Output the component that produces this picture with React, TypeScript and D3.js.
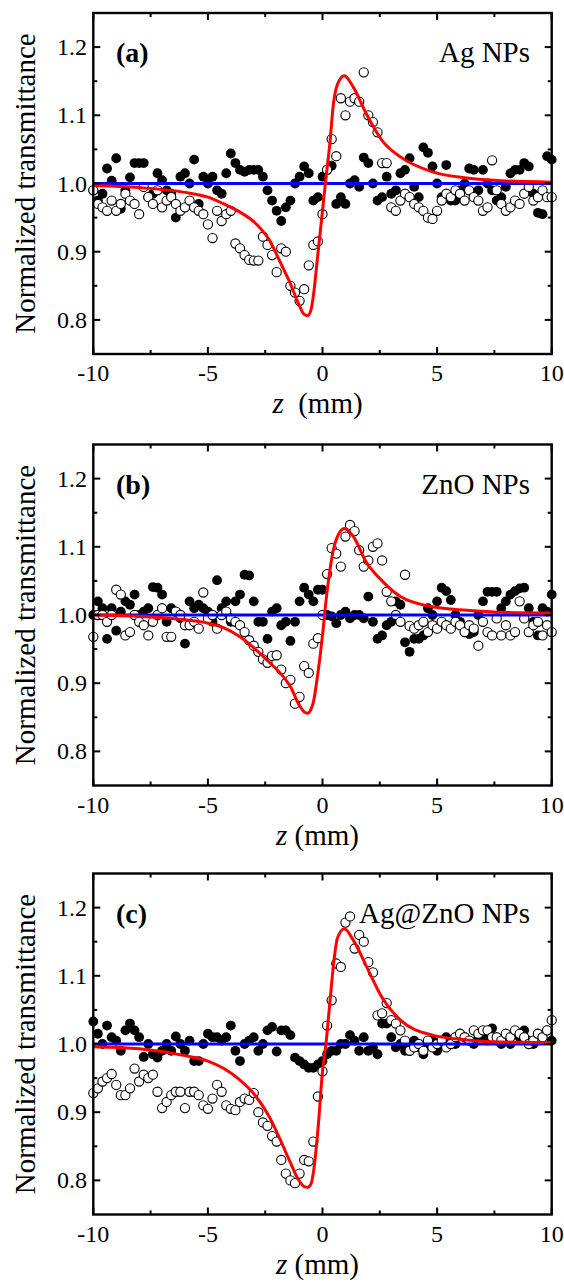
import React from 'react';
import * as d3 from 'd3';

// z positions of the scan (mm)
const zScan = [
	-10, -9.8, -9.6, -9.4, -9.2, -9, -8.8, -8.6, -8.4, -8.2,
	-8, -7.8, -7.6, -7.4, -7.2, -7, -6.8, -6.6, -6.4, -6.2,
	-6, -5.8, -5.6, -5.4, -5.2, -5, -4.8, -4.6, -4.4, -4.2,
	-4, -3.8, -3.6, -3.4, -3.2, -3, -2.8, -2.6, -2.4, -2.2,
	-2, -1.8, -1.6, -1.4, -1.2, -1, -0.8, -0.6, -0.4, -0.2,
	0, 0.2, 0.4, 0.6, 0.8, 1, 1.2, 1.4, 1.6, 1.8,
	2, 2.2, 2.4, 2.6, 2.8, 3, 3.2, 3.4, 3.6, 3.8,
	4, 4.2, 4.4, 4.6, 4.8, 5, 5.2, 5.4, 5.6, 5.8,
	6, 6.2, 6.4, 6.6, 6.8, 7, 7.2, 7.4, 7.6, 7.8,
	8, 8.2, 8.4, 8.6, 8.8, 9, 9.2, 9.4, 9.6, 9.8,
	10
];

// (a) Ag NPs
const agOpen = [
	0.99, 0.97, 0.965, 0.96, 0.975, 0.96, 0.97, 0.985, 0.975, 0.97,
	0.955, 0.995, 0.98, 0.97, 0.99, 0.965, 0.975, 0.98, 0.97, 0.96,
	0.965, 0.975, 0.965, 0.96, 0.955, 0.94, 0.92, 0.96, 0.945, 0.955,
	0.96, 0.912, 0.905, 0.895, 0.888, 0.887, 0.887, 0.922, 0.91, 0.895,
	0.87, 0.905, 0.9, 0.85, 0.84, 0.828, 0.845, 0.88, 0.91, 0.915,
	0.955, 1.02, 1.065, 1.04, 1.125, 1.1, 1.12, 1.125, 1.12, 1.163,
	1.1, 1.09, 1.075, 1.03, 1.03, 0.965, 0.96, 0.975, 0.985, 0.98,
	0.97, 0.965, 0.96, 0.95, 0.948, 0.96, 0.975, 0.985, 0.98, 0.99,
	0.985, 0.975, 0.99, 0.98, 0.975, 0.96, 0.965, 1.034, 0.99, 0.97,
	0.96, 0.965, 0.975, 0.97, 0.985, 0.995, 0.975, 0.98, 0.99, 0.98,
	0.98
];
const agFilled = [
	0.99, 0.975, 0.985, 1.022, 1.004, 1.037, 0.963, 0.99, 1.009, 1.03,
	1.03, 1.03, 0.98, 0.985, 1.015, 1.005, 0.99, 0.985, 0.95, 1.01,
	1.015, 1.0, 1.035, 0.97, 1.01, 1.0, 1.01, 0.99, 0.985, 1.015,
	1.044, 1.03, 1.02, 1.017, 1.02, 1.02, 1.02, 1.01, 0.99, 0.975,
	0.96, 0.945, 0.965, 0.975, 1.0, 1.01, 1.025, 1.015, 0.975, 0.98,
	1.01, 1.02, 1.026, 0.97, 0.98, 0.97, 1.0, 1.005, 0.995, 1.038,
	1.03, 1.0, 0.975, 0.98, 1.01, 0.985, 0.99, 1.015, 1.02, 1.037,
	0.995, 0.98, 1.053, 1.045, 1.025, 1.0, 0.98, 1.027, 0.975, 0.975,
	0.99, 1.0, 1.022, 1.02, 0.99, 1.02, 1.0, 0.99, 0.975, 0.98,
	0.995, 1.015, 1.02, 1.02, 1.03, 1.025, 0.985, 0.957, 0.955, 1.04,
	1.035
];

// (b) ZnO NPs
const znoOpen = [
	0.968, 1.0, 1.0, 0.99, 1.0, 1.037, 1.03, 0.97, 0.975, 1.0,
	0.99, 0.985, 0.97, 0.99, 1.0, 1.01, 0.968, 0.968, 1.005, 1.0,
	0.985, 0.985, 0.99, 0.98, 1.033, 0.995, 1.0, 0.98, 1.0, 1.005,
	0.995, 0.99, 0.985, 0.975, 0.963, 0.955, 0.946, 0.935, 0.93, 0.94,
	0.941, 0.92, 0.9, 0.905, 0.87, 0.88, 0.925, 0.915, 0.958, 0.966,
	1.0, 1.06, 1.098, 1.09, 1.071, 1.115, 1.132, 1.123, 1.095, 1.071,
	1.08, 1.1, 1.105, 1.08, 1.034, 1.02, 1.0, 0.99, 1.059, 0.984,
	0.98, 0.985, 0.99, 0.975, 0.985, 0.98, 0.99, 0.985, 0.98, 0.99,
	0.985, 0.975, 0.985, 0.98, 0.955, 0.99, 0.975, 0.97, 0.995, 0.97,
	0.985, 0.97, 0.975, 1.02, 0.995, 0.975, 0.985, 0.99, 0.97, 0.985,
	0.975
];
const znoFilled = [
	1.0, 1.02, 1.01, 0.965, 1.01, 0.977, 1.005, 1.02, 1.015, 1.03,
	1.0, 1.005, 1.01, 1.041, 1.04, 1.03, 0.99, 1.01, 1.005, 0.995,
	0.958, 1.02, 1.01, 1.015, 1.01, 1.005, 0.99, 1.051, 1.01, 1.02,
	0.99, 1.02, 1.03, 1.059, 1.058, 1.02, 0.99, 0.99, 0.965, 1.005,
	1.01, 0.985, 0.99, 0.962, 0.99, 1.02, 1.04, 1.03, 1.02, 1.037,
	1.037, 1.0, 0.998, 0.988, 1.0, 1.005, 0.995, 1.0, 1.0, 0.995,
	1.027, 0.99, 0.965, 0.97, 0.985, 0.99, 1.02, 1.015, 0.96, 0.946,
	0.965, 0.965, 0.97, 1.01, 1.0, 1.02, 1.04, 1.035, 1.022, 1.0,
	0.99, 0.975, 0.972, 0.975, 1.0, 1.02, 1.034, 1.034, 1.034, 1.01,
	1.02, 1.03, 1.035, 1.039, 1.04, 1.01, 0.99, 0.97, 1.01, 1.005,
	1.03
];

// (c) Ag@ZnO NPs
const agZnoOpen = [
	0.928, 0.935, 0.945, 0.95, 0.956, 0.94, 0.925, 0.925, 0.935, 0.964,
	0.945, 0.955, 0.95, 0.955, 0.93, 0.906, 0.915, 0.925, 0.93, 0.93,
	0.906, 0.93, 0.93, 0.925, 0.91, 0.905, 0.92, 0.94, 0.93, 0.91,
	0.905, 0.903, 0.915, 0.92, 0.918, 0.928, 0.9, 0.885, 0.88, 0.865,
	0.857, 0.83, 0.81, 0.8, 0.796, 0.81, 0.83, 0.828, 0.857, 0.923,
	0.96, 1.027, 1.064, 1.118, 1.113, 1.178, 1.187, 1.14, 1.16, 1.15,
	1.12, 1.105, 1.042, 1.045, 1.06, 1.035, 1.03, 1.02, 1.005, 0.99,
	0.995, 1.0, 0.99, 1.005, 0.995, 1.0, 1.005, 0.995, 1.0, 1.01,
	1.015, 1.01, 1.005, 1.02, 1.015, 1.02, 1.02, 1.01, 1.01, 1.005,
	1.015, 1.01, 1.02, 1.015, 1.01, 1.0, 1.005, 1.015, 1.01, 1.02,
	1.035
];
const agZnoFilled = [
	1.033, 1.015, 1.0, 1.027, 1.01, 1.005, 0.99, 1.02, 1.03, 1.02,
	1.01, 0.981, 1.0, 0.985, 0.98, 0.99, 1.0, 0.99, 1.011, 1.0,
	0.99, 1.005, 0.975, 0.975, 1.0, 1.015, 1.01, 1.01, 1.005, 1.01,
	1.027, 0.99, 0.975, 1.0, 1.005, 1.01, 0.99, 1.0, 1.02, 1.025,
	0.989, 1.02, 1.02, 1.013, 0.98, 0.975, 0.97, 0.965, 0.965, 0.97,
	0.975, 0.985, 0.99, 0.99, 1.0, 1.0, 1.013, 1.005, 0.99, 1.01,
	0.99, 0.995, 0.985, 1.03, 1.03, 1.01, 0.995, 1.0, 0.99, 1.0,
	1.005, 0.995, 0.985, 1.0, 1.005, 0.99, 1.0, 1.01, 1.005, 1.0,
	1.015, 1.01, 1.005, 1.0, 1.01, 1.013, 1.005, 1.023, 1.005, 1.0,
	1.01, 1.0, 1.015, 1.01, 1.02, 1.005, 1.0, 1.015, 1.01, 1.02,
	1.005
];

// fitted curves (red), read at these z
const fitZ = [-10, -8, -6, -5, -4.3, -3.6, -2.9, -2.3, -1.85, -1.4, -1.05, -0.8, -0.65, -0.5, -0.4,
	-0.2, 0, 0.15, 0.32, 0.47, 0.65, 0.95, 1.35, 1.9, 2.6, 3.4, 4.8, 6.3, 7.8, 10];
const agFit = [0.997, 0.994, 0.987, 0.98, 0.97, 0.958, 0.941, 0.916, 0.885, 0.853, 0.824, 0.808, 0.806, 0.815, 0.835,
	0.897, 0.96, 1.008, 1.058, 1.115, 1.145, 1.158, 1.141, 1.103, 1.063, 1.039, 1.017, 1.008, 1.004, 1.002];
const znoFit = [1.0, 0.998, 0.993, 0.988, 0.981, 0.968, 0.949, 0.93, 0.915, 0.895, 0.87, 0.858, 0.856, 0.862, 0.872,
	0.915, 0.97, 1.02, 1.065, 1.095, 1.115, 1.127, 1.115, 1.078, 1.05, 1.027, 1.012, 1.007, 1.004, 1.003];
const agZnoFit = [0.996, 0.993, 0.983, 0.975, 0.964, 0.947, 0.923, 0.892, 0.86, 0.826, 0.801, 0.791, 0.79, 0.795, 0.811,
	0.874, 0.96, 1.0, 1.06, 1.113, 1.155, 1.169, 1.152, 1.115, 1.068, 1.035, 1.013, 1.006, 1.003, 1.002];

const baseline = 1.0;

const panelTags = ['(a)', '(b)', '(c)'];
const sampleNames = ['Ag NPs', 'ZnO NPs', 'Ag@ZnO NPs'];
const xTitleGaps = ['  ', ' ', ' '];

const xMajor = [-10, -5, 0, 5, 10];
const xMinor = [-7.5, -2.5, 2.5, 7.5];
const yMajor = [0.8, 0.9, 1.0, 1.1, 1.2];
const yMinor = [0.85, 0.95, 1.05, 1.15];

const W = 564;
const H = 1282;
const SERIF = "'Liberation Serif', 'Times New Roman', serif";

const panelData = [
	{ open: agOpen, filled: agFilled, fit: agFit },
	{ open: znoOpen, filled: znoFilled, fit: znoFit },
	{ open: agZnoOpen, filled: agZnoFilled, fit: agZnoFit },
];

const pairs = (xs: number[], ys: number[]) =>
	ys.slice(0, xs.length).map((v, i) => [xs[i], v] as [number, number]);

const Panel = ({ idx, top }: { idx: number, top: number }) => {
	const left = 93.3;
	const right = 551.7;
	const bottom = top + 341;
	const d = panelData[idx];

	const x = d3.scaleLinear().domain([-10, 10]).range([left, right]);
	const y = d3.scaleLinear().domain([0.75, 1.25]).range([bottom, top]);
	const fmt = d3.format('.1f');

	const fitLine = d3.line<[number, number]>()
		.curve(d3.curveMonotoneX)
		.x(p => x(p[0]))
		.y(p => y(p[1]));

	const filled = pairs(zScan, d.filled);
	const open = pairs(zScan, d.open);
	const fit = pairs(fitZ, d.fit);
	const midY = (top + bottom) / 2;

	return (
		<g>
			{/* data */}
			{filled.map((p, i) => (
				<circle key={'f' + i} cx={x(p[0])} cy={y(p[1])} r={4.9} fill="#000" />
			))}
			{open.map((p, i) => (
				<circle key={'o' + i} cx={x(p[0])} cy={y(p[1])} r={4.6} fill="#fff" stroke="#000" strokeWidth={1.1} />
			))}
			<line x1={x(-10)} x2={x(10)} y1={y(baseline)} y2={y(baseline)} stroke="#0000ff" strokeWidth={2.8} />
			<path d={fitLine(fit) || ''} fill="none" stroke="#ff0000" strokeWidth={3} />

			{/* frame + ticks */}
			<rect x={left} y={top} width={right - left} height={bottom - top} fill="none" stroke="#000" strokeWidth={2.4} />
			{xMajor.map(t => (
				<g key={'xM' + t}>
					<line x1={x(t)} x2={x(t)} y1={bottom} y2={bottom - 7} stroke="#000" strokeWidth={2} />
					<line x1={x(t)} x2={x(t)} y1={top} y2={top + 7} stroke="#000" strokeWidth={2} />
					<text x={x(t)} y={bottom + 27} textAnchor="middle" fontSize={24} fontFamily={SERIF}>{t}</text>
				</g>
			))}
			{xMinor.map(t => (
				<g key={'xm' + t}>
					<line x1={x(t)} x2={x(t)} y1={bottom} y2={bottom - 4} stroke="#000" strokeWidth={2} />
					<line x1={x(t)} x2={x(t)} y1={top} y2={top + 4} stroke="#000" strokeWidth={2} />
				</g>
			))}
			{yMajor.map(t => (
				<g key={'yM' + t}>
					<line x1={left} x2={left + 7} y1={y(t)} y2={y(t)} stroke="#000" strokeWidth={2} />
					<line x1={right} x2={right - 7} y1={y(t)} y2={y(t)} stroke="#000" strokeWidth={2} />
					<text x={87} y={y(t) + 8} textAnchor="end" fontSize={24} fontFamily={SERIF}>{fmt(t)}</text>
				</g>
			))}
			{yMinor.map(t => (
				<g key={'ym' + t}>
					<line x1={left} x2={left + 4} y1={y(t)} y2={y(t)} stroke="#000" strokeWidth={2} />
					<line x1={right} x2={right - 4} y1={y(t)} y2={y(t)} stroke="#000" strokeWidth={2} />
				</g>
			))}

			{/* labels */}
			<text x={116} y={top + 49} fontSize={28} fontWeight="bold" fontFamily={SERIF}>{panelTags[idx]}</text>
			<text x={530} y={top + 49} textAnchor="end" fontSize={29} fontFamily={SERIF}>{sampleNames[idx]}</text>
			<text transform={`translate(35,${midY}) rotate(-90)`} textAnchor="middle" fontSize={29} fontFamily={SERIF}>
				Normalized transmittance
			</text>
			<text x={(left + right) / 2 - 5} y={bottom + 59} textAnchor="middle" fontSize={29} fontFamily={SERIF} style={{ whiteSpace: 'pre' }}>
				<tspan fontStyle="italic">z</tspan>{xTitleGaps[idx] + '(mm)'}
			</text>
		</g>
	);
};

export default function App() {
	const tops = [13, 444.5, 873.5];
	return (
		<svg width={W} height={H} style={{ position: 'absolute', left: 0, top: 0, background: '#fff' }}>
			<rect width={W} height={H} fill="#fff" />
			{tops.map((t, i) => <Panel key={i} idx={i} top={t} />)}
		</svg>
	);
}
